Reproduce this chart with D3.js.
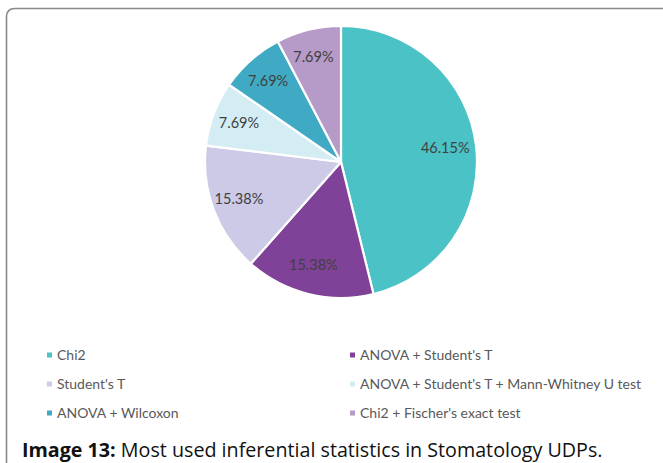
<!DOCTYPE html>
<html>
<head>
<meta charset="utf-8">
<script src="https://cdn.jsdelivr.net/npm/d3@7"></script>
<style>
  html, body { margin: 0; padding: 0; background: #fff; }
  svg { display: block; }
</style>
</head>
<body>
<svg id="chart" width="663" height="463"></svg>
<script>
const categories = ["Chi2", "ANOVA + Student's T", "Student's T", "ANOVA + Student's T + Mann-Whitney U test", "ANOVA + Wilcoxon", "Chi2 + Fischer's exact test"];
const values = [46.15, 15.38, 15.38, 7.69, 7.69, 7.69];
const colors = ["#4AC2C6", "#7F4298", "#CCCAE6", "#D4EDF4", "#40AAC5", "#B69AC8"];
const captionBold = "Image 13:";
const captionText = " Most used inferential statistics in Stomatology UDPs.";

const svg = d3.select("#chart");

// frame (rounded box, open on the right / bottom)
svg.append("path")
  .attr("d", "M6.5,463 L6.5,17 Q6.5,8.5 15,8.5 L663,8.5")
  .attr("fill", "none").attr("stroke", "#8a8a8a").attr("stroke-width", 1.6);

const data = categories.map((c, i) => ({ name: c, value: values[i], color: colors[i] }));
const cx = 341, cy = 162, R = 136;

const pie = d3.pie().sort(null).value(d => d.value);
const arc = d3.arc().innerRadius(0).outerRadius(R);
const labelArc = d3.arc().innerRadius(107).outerRadius(107);

const g = svg.append("g").attr("transform", `translate(${cx},${cy})`);
const arcs = pie(data);
g.selectAll("path.slice").data(arcs).join("path")
  .attr("class", "slice")
  .attr("d", arc)
  .attr("fill", d => d.data.color)
  .attr("stroke", "#fff").attr("stroke-width", 2.2).attr("stroke-linejoin", "round");

g.selectAll("text.lbl").data(arcs).join("text")
  .attr("class", "lbl")
  .attr("transform", d => { const c = labelArc.centroid(d); return `translate(${c[0] - 2},${c[1] - 1})`; })
  .attr("text-anchor", "middle").attr("dy", "0.35em")
  .attr("font-family", "Lato, 'Open Sans', sans-serif")
  .attr("font-size", 14.5)
  .attr("fill", "#404040")
  .text(d => d.data.value.toFixed(2) + "%");

// legend
const legend = svg.append("g");
const colX = [47, 350];
const rowY = [355, 384, 413];
data.forEach((d, i) => {
  const x = colX[i % 2], y = rowY[Math.floor(i / 2)];
  const item = legend.append("g").attr("transform", `translate(${x},${y})`);
  item.append("rect").attr("x", 0).attr("y", -2.5).attr("width", 5).attr("height", 5).attr("fill", d.color);
  item.append("text").attr("x", 10).attr("dy", "0.35em")
    .attr("font-family", "Lato, 'Open Sans', sans-serif")
    .attr("font-size", 14).attr("fill", "#595959")
    .text(d.name);
});

// caption
const cap = svg.append("text").attr("x", 22).attr("y", 457)
  .attr("font-family", "'Open Sans', sans-serif").attr("font-size", 19.7).attr("fill", "#111");
cap.append("tspan").attr("font-weight", "bold").text(captionBold);
cap.append("tspan").text(captionText);
</script>
</body>
</html>
